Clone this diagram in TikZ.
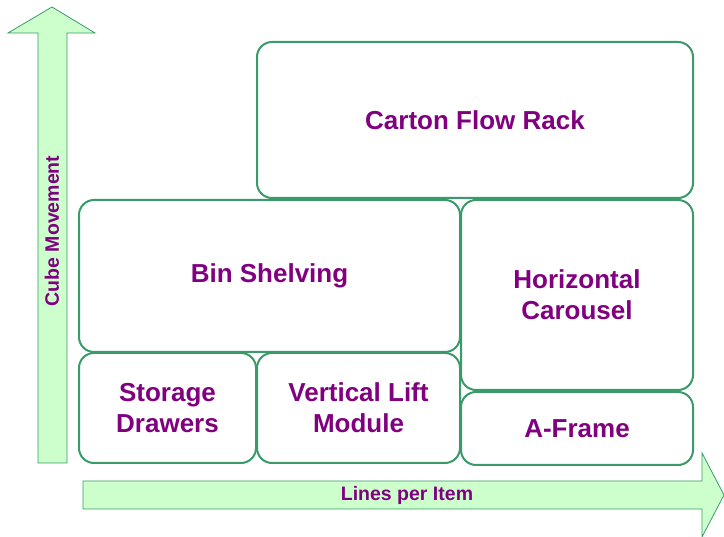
\documentclass[tikz,border=0pt]{standalone}
\usepackage{fontspec}
\setmainfont{Liberation Sans}
\usepackage{xcolor}
\definecolor{boxgreen}{RGB}{58,154,106}
\definecolor{arrowfill}{RGB}{204,255,204}
\definecolor{labelpurple}{RGB}{128,0,128}

\begin{document}
\begin{tikzpicture}[x=1pt, y=-1pt,
    box/.style 2 args = {draw=boxgreen, line width=2pt, rounded corners=15pt,
                fill=white, text=labelpurple, align=center, inner sep=0pt,
                font=\fontsize{26}{31}\selectfont\bfseries,
                minimum width=#1, minimum height=#2},
    axislabel/.style = {text=labelpurple, inner sep=0pt,
                font=\fontsize{19.5}{23}\selectfont\bfseries},
    bigarrow/.style = {draw=boxgreen, fill=arrowfill, line width=0.8pt}
                    ]
    \useasboundingbox (0,0) rectangle (724,537);
    % axis arrows
    \def\sx{38}
    \def\sy{481}
    \draw[bigarrow] (\sx,463) -- (\sx,33) -- (8,33) -- (52,7) -- (95,33)
        -- (67,33) -- (67,463) -- cycle;
    \draw[bigarrow] (83,\sy) -- (702,\sy) -- (702,453) -- (724,495)
        -- (702,537) -- (702,509) -- (83,509) -- cycle;
    \node[axislabel, rotate=90] at (52,231) (cube) {Cube Movement};
    \node[axislabel] at (407,495) (lines) {Lines per Item};
    % storage boxes
    \node[box={436pt}{156pt}] at (475,120) (cfr) {Carton Flow Rack};
    \node[box={381pt}{152pt}] at (269.5,276) (bin) {Bin Shelving};
    \node[box={232pt}{190pt}] at (577,295) (hc) {Horizontal\\Carousel};
    \node[box={177pt}{110pt}] at (167.5,408) (sd) {Storage\\Drawers};
    \node[box={203pt}{110pt}] at (358.5,408) (vlm) {Vertical Lift\\Module};
    \node[box={232pt}{73pt}] at (577,428.5) (af) {A-Frame};
\end{tikzpicture}
\end{document}
